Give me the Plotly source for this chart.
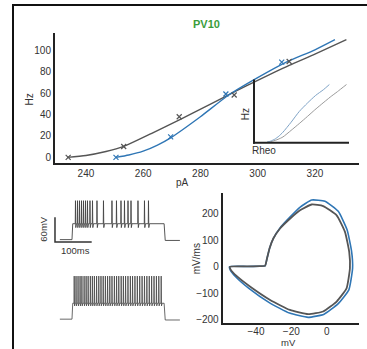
import plotly.graph_objects as go

# ---------------- data ----------------
# f-I measurements (current step in pA -> firing rate in Hz)
fi_gray_pa = [233.8, 253.2, 272.6, 291.8, 311.0]
fi_gray_hz = [0, 10.2, 38, 58.3, 89.6]
fi_blue_pa = [250.5, 269.6, 288.9, 308.4]
fi_blue_hz = [0, 19.2, 59.2, 89]

# fitted f-I curves
fit_gray_pa = [233.5, 240, 247, 253, 263, 273, 283, 292, 300, 311, 320, 331]
fit_gray_hz = [0, 1.8, 5.5, 10, 22.5, 35.5, 49, 61.5, 72, 86, 96.5, 110]
fit_blue_pa = [250.5, 255, 260, 265, 270, 280, 290, 300, 310, 320, 327]
fit_blue_hz = [0, 2.2, 5.8, 11.5, 19, 38, 58.5, 74.5, 89, 100.5, 110]

# rheobase of each fit (curves re-plotted relative to it in the inset)
rheo_gray = 233.5
rheo_blue = 250.5

# tick values
fi_xticks = [240, 260, 280, 300, 320]
fi_yticks = [0, 20, 40, 60, 80, 100]

# voltage traces: spike times (ms after step onset)
sparse_spikes = [9.5, 15, 20.4, 25.9, 31.3, 36.8, 42.2, 49, 55.9, 68.1,
                 85.8, 108.9, 121.2, 133.5, 143, 152.6, 160.8, 179.8, 197.5, 208.4]
dense_spikes = [6, 11, 16.5, 22, 27, 33, 38.5, 44, 50, 55.5, 61, 67, 73, 79, 85,
                91, 97, 103, 109, 115.5, 121.5, 127.5, 134, 140, 146, 152.5, 159,
                165, 171.5, 178, 184.5, 191, 197.5, 204, 210.5, 217, 223.5, 230,
                236.5, 243]
step_on, step_off = 0, 251
trace_start, trace_end = -33, 294
v_rest, v_plateau, v_peak, v_trough, v_after = -70, -31.6, 24, -41, -72
v_peak_dense, v_trough_dense = 34, -38

# phase plane loops (membrane potential mV vs dV/dt mV/ms)
phase_gray_v = [-54.7, -45, -38, -34.9, -33.8, -32.3, -30.2, -26.4, -20.8, -15.1,
                -8.5, -2, 5.6, 10.3, 12.7, 13.1, 11.2, 5.6, -2, -10.5, -20.8,
                -32, -43.4, -51, -54.2, -54.7]
phase_gray_dv = [0, 1, 2, 3, 30, 70, 107, 145, 182, 214, 236, 230, 195, 132, 56,
                 -6, -82, -132, -170, -180, -164, -126, -75, -35, -12, 0]
phase_blue_v = [-55, -45, -38, -34.9, -33.8, -32.3, -30.2, -26.4, -20.8, -15,
                -8.5, -1, 6.5, 11.5, 14, 14.6, 12.5, 6.5, -1.5, -10.5, -21,
                -32.5, -44, -51.5, -54.5, -55]
phase_blue_dv = [0, 1, 2, 3, 30, 70, 107, 147, 188, 226, 253, 248, 210, 140, 60,
                 -6, -88, -140, -180, -192, -176, -136, -82, -38, -13, 0]
phase_xticks = [-40, -20, 0]
phase_yticks = [-200, -100, 0, 100, 200]

# ---------------- styling ----------------
W, H = 367, 349
GRAY = "#555555"
BLUE = "#2f76b5"
GREEN = "#3a9d3a"
TXT = "#333333"
FONT = "Liberation Sans, Arial, sans-serif"


def fx(px):
    return px / W


def fy(py):
    return 1 - py / H


def build_trace(spikes, peak, trough):
    xs = [trace_start, step_on, step_on + 2]
    ys = [v_rest, v_rest, v_plateau]
    for t in spikes:
        xs += [t - 0.6, t, t + 0.9, t + 2.6]
        ys += [v_plateau, peak, trough, v_plateau]
    xs += [step_off, step_off + 3, trace_end]
    ys += [v_plateau, v_after, v_after]
    return xs, ys


fig = go.Figure()

# main f-I plot
fig.add_trace(go.Scatter(x=fit_gray_pa, y=fit_gray_hz, mode="lines",
                         line=dict(color=GRAY, width=1.4, shape="spline", smoothing=0.6),
                         xaxis="x", yaxis="y", hoverinfo="skip"))
fig.add_trace(go.Scatter(x=fit_blue_pa, y=fit_blue_hz, mode="lines",
                         line=dict(color=BLUE, width=1.4, shape="spline", smoothing=0.6),
                         xaxis="x", yaxis="y", hoverinfo="skip"))
fig.add_trace(go.Scatter(x=fi_gray_pa, y=fi_gray_hz, mode="markers",
                         marker=dict(symbol="x-thin", size=5, line=dict(color=GRAY, width=1.2)),
                         xaxis="x", yaxis="y"))
fig.add_trace(go.Scatter(x=fi_blue_pa, y=fi_blue_hz, mode="markers",
                         marker=dict(symbol="x-thin", size=5, line=dict(color=BLUE, width=1.2)),
                         xaxis="x", yaxis="y"))

# inset: curves relative to rheobase
fig.add_trace(go.Scatter(x=[p - rheo_gray for p in fit_gray_pa], y=fit_gray_hz, mode="lines",
                         line=dict(color="#9a9a9a", width=1, shape="spline", smoothing=0.6),
                         xaxis="x2", yaxis="y2"))
fig.add_trace(go.Scatter(x=[p - rheo_blue for p in fit_blue_pa], y=fit_blue_hz, mode="lines",
                         line=dict(color="#7fa3c6", width=1, shape="spline", smoothing=0.6),
                         xaxis="x2", yaxis="y2"))

# voltage traces
tx, ty = build_trace(sparse_spikes, v_peak, v_trough)
fig.add_trace(go.Scatter(x=tx, y=ty, mode="lines", line=dict(color="#444444", width=0.9),
                         xaxis="x3", yaxis="y3"))
# scale bar: 100 ms x 60 mV
sb_t0 = -46.3
sb_v0 = -76
fig.add_trace(go.Scatter(x=[sb_t0, sb_t0, sb_t0 + 100], y=[sb_v0 + 60, sb_v0, sb_v0],
                         mode="lines", line=dict(color="#333333", width=1.5),
                         xaxis="x3", yaxis="y3"))
bx, by = build_trace(dense_spikes, v_peak_dense, v_trough_dense)
fig.add_trace(go.Scatter(x=bx, y=by, mode="lines", line=dict(color="#444444", width=0.8),
                         xaxis="x3", yaxis="y4"))

# phase plane
fig.add_trace(go.Scatter(x=phase_blue_v, y=phase_blue_dv, mode="lines",
                         line=dict(color=BLUE, width=1.6, shape="spline", smoothing=0.45),
                         xaxis="x5", yaxis="y5"))
fig.add_trace(go.Scatter(x=phase_gray_v, y=phase_gray_dv, mode="lines",
                         line=dict(color=GRAY, width=1.8, shape="spline", smoothing=0.45),
                         xaxis="x5", yaxis="y5"))

axis_common = dict(showgrid=False, zeroline=False, ticks="", fixedrange=True,
                   tickfont=dict(family=FONT, size=10, color=TXT))
hidden = dict(visible=False, showgrid=False, zeroline=False, fixedrange=True)

fig.update_layout(
    width=W, height=H, autosize=False,
    margin=dict(l=0, r=0, t=0, b=0),
    paper_bgcolor="white", plot_bgcolor="rgba(0,0,0,0)",
    showlegend=False,
    font=dict(family=FONT, color=TXT),
    xaxis=dict(axis_common, domain=[fx(55), fx(359)], range=[229.2, 335.4],
               tickvals=fi_xticks, showline=True, linecolor="#222", linewidth=2,
               anchor="y"),
    yaxis=dict(axis_common, domain=[fy(164), fy(33)], range=[-5.3, 116.4],
               tickvals=fi_yticks, showline=True, linecolor="#222", linewidth=2,
               anchor="x"),
    xaxis2=dict(hidden, domain=[fx(254), fx(349)], range=[-16, 100.6], anchor="y2"),
    yaxis2=dict(hidden, domain=[fy(143.5), fy(81)], range=[-0.9, 117.6], anchor="x2"),
    xaxis3=dict(hidden, domain=[fx(50), fx(185)], range=[-59.9, 307.9], anchor="y3"),
    yaxis3=dict(hidden, domain=[fy(250), fy(195)], range=[-91.6, 40.4], anchor="x3"),
    yaxis4=dict(hidden, domain=[fy(330), fy(265)], range=[-91.6, 64.4], anchor="x3"),
    xaxis5=dict(axis_common, domain=[fx(222.7), fx(359.3)], range=[-58.8, 18.4],
                tickvals=phase_xticks, showline=True, linecolor="#222", linewidth=2,
                ticklabelstandoff=-2, anchor="y5"),
    yaxis5=dict(axis_common, domain=[fy(325), fy(194)], range=[-214, 280],
                tickvals=phase_yticks, showline=True, linecolor="#222", linewidth=2,
                anchor="x5"),
)

# inset axes (L shape)
fig.add_shape(type="line", xref="paper", yref="paper",
              x0=fx(254), y0=fy(80), x1=fx(254), y1=fy(144.5),
              line=dict(color="#222", width=2))
fig.add_shape(type="line", xref="paper", yref="paper",
              x0=fx(253), y0=fy(143.5), x1=fx(349), y1=fy(143.5),
              line=dict(color="#222", width=2))

# panel frame (left and top edges)
fig.add_shape(type="line", xref="paper", yref="paper",
              x0=fx(13), y0=-0.05, x1=fx(13), y1=fy(5),
              line=dict(color="#111", width=2))
fig.add_shape(type="line", xref="paper", yref="paper",
              x0=fx(12), y0=fy(5), x1=1.05, y1=fy(5),
              line=dict(color="#111", width=2))


def label(text, px, py, size=10, angle=0, color=TXT, bold=False):
    fig.add_annotation(text=f"<b>{text}</b>" if bold else text,
                       x=fx(px), y=fy(py), xref="paper", yref="paper",
                       showarrow=False, textangle=angle,
                       font=dict(family=FONT, size=size, color=color),
                       xanchor="center", yanchor="middle")


label("PV10", 206.7, 24, size=11, color=GREEN, bold=True)
label("Hz", 29, 100, angle=-90)
label("pA", 182, 184)
label("Hz", 245, 115, angle=-90)
label("Rheo", 264, 151)
label("60mV", 44, 231, angle=-90, size=9.5)
label("100ms", 75, 251.5, size=9.5)
label("mV/ms", 196.7, 260, angle=-90)
label("mV", 288.3, 344, size=9.5)

fig.write_html("out.html")
